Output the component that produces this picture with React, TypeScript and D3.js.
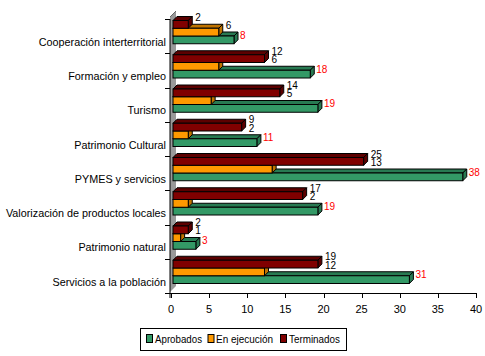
import React from "react";
import * as d3 from "d3";

const categories = [
  "Cooperación interterritorial",
  "Formación y empleo",
  "Turismo",
  "Patrimonio Cultural",
  "PYMES y servicios",
  "Valorización de productos locales",
  "Patrimonio natural",
  "Servicios a la población",
];
const aprobados = [8, 18, 19, 11, 38, 19, 3, 31];
const enEjecucion = [6, 6, 5, 2, 13, 2, 1, 12];
const terminados = [2, 12, 14, 9, 25, 17, 2, 19];
const xTicks = [0, 5, 10, 15, 20, 25, 30, 35, 40];
const seriesNames = ["Aprobados", "En ejecución", "Terminados"];
const seriesColors = ["#339966", "#FF9900", "#800000"];
const seriesDark = ["#287a52", "#bf7300", "#5c0000"];

const W = 485;
const H = 356;
const FONT = "'Liberation Sans', Arial, sans-serif";

export default function App() {
  const x = d3.scaleLinear().domain([0, 40]).range([171, 476]);
  const y = d3.scaleBand<string>().domain(categories).range([19, 293]).padding(0);
  const barH = 7.75;
  const dx = 4;
  const dy = 4;
  const off = 2;

  const bar = (x1: number, yt: number, si: number, key: string) => {
    const x0 = x(0) + off;
    const xe = x(x1) + off;
    const yb = yt + barH;
    const top = `M${x0},${yt}L${x0 + dx},${yt - dy}L${xe + dx},${yt - dy}L${xe},${yt}Z`;
    const side = `M${xe},${yt}L${xe + dx},${yt - dy}L${xe + dx},${yb - dy}L${xe},${yb}Z`;
    return (
      <g key={key}>
        <path d={top} fill={seriesDark[si]} stroke="#000" strokeWidth={1} />
        <path d={side} fill={seriesDark[si]} stroke="#000" strokeWidth={1} />
        <rect x={x0} y={yt} width={xe - x0} height={barH} fill={seriesColors[si]} stroke="#000" strokeWidth={1} />
      </g>
    );
  };

  const legendPos = [
    { sx: 146, tx: 155, len: 47 },
    { sx: 207.5, tx: 216, len: 57 },
    { sx: 280, tx: 289, len: 51 },
  ];

  return (
    <svg width={W} height={H} style={{ position: "absolute", left: 0, top: 0, background: "#fff" }}>
      {/* wall */}
      <path d={`M170,17L176,11L176,286L170,292Z`} fill="#999999" />
      <path d={`M170,17L176,11`} stroke="#666" strokeWidth={1} fill="none" />
      {/* bars */}
      {categories.map((c, i) => {
        const bt = (y(c) as number) + 1.5;
        const vals = [aprobados[i], enEjecucion[i], terminados[i]];
        const tops = [bt + 2 * barH, bt + barH, bt];
        return (
          <g key={c}>
            {[0, 1, 2].map((si) => bar(vals[si], tops[si], si, c + si))}
          </g>
        );
      })}
      {/* labels */}
      {categories.map((c, i) => {
        const bt = (y(c) as number) + 1.5;
        const tx = x(terminados[i]) + 9;
        const ex = x(Math.max(terminados[i], enEjecucion[i])) + 9;
        const ax = x(aprobados[i]) + 8;
        return (
          <g key={"l" + c} fontFamily={FONT} fontSize={10}>
            <text x={tx} y={bt - 3.5} dy="0.35em" fill="#000">{terminados[i]}</text>
            <text x={ex} y={bt + barH - 3} dy="0.35em" fill="#000">{enEjecucion[i]}</text>
            <text x={ax} y={bt + 2 * barH - 1} dy="0.35em" fill="#ff0000">{aprobados[i]}</text>
          </g>
        );
      })}
      {/* axes */}
      <line x1={170} y1={19} x2={170} y2={298} stroke="#000" />
      <line x1={170} y1={293.5} x2={476} y2={293.5} stroke="#000" />
      {[...categories.map((c) => y(c) as number), 293].map((v, i) => (
        <line key={"yt" + i} x1={165} x2={170} y1={Math.round(v) + 0.5} y2={Math.round(v) + 0.5} stroke="#000" />
      ))}
      {xTicks.map((t) => (
        <g key={"xt" + t}>
          <line x1={Math.round(x(t)) + 0.5} x2={Math.round(x(t)) + 0.5} y1={293} y2={298} stroke="#000" />
          <text x={x(t)} y={309} dy="0.35em" textAnchor="middle" fontFamily={FONT} fontSize={11}>{t}</text>
        </g>
      ))}
      {categories.map((c) => (
        <text key={"c" + c} x={166} y={(y(c) as number) + 23} dy="0.35em" textAnchor="end" fontFamily={FONT} fontSize={10.8}>
          {c}
        </text>
      ))}
      {/* legend */}
      <rect x={140.5} y={328.5} width={206} height={22} fill="#fff" stroke="#000" />
      {legendPos.map((p, i) => (
        <g key={"lg" + i}>
          <rect x={p.sx + 0.5} y={334.5} width={6} height={8} fill={seriesColors[i]} stroke="#000" />
          <text x={p.tx} y={339} dy="0.35em" fontFamily={FONT} fontSize={11.5} textLength={p.len} lengthAdjust="spacingAndGlyphs">
            {seriesNames[i]}
          </text>
        </g>
      ))}
    </svg>
  );
}
